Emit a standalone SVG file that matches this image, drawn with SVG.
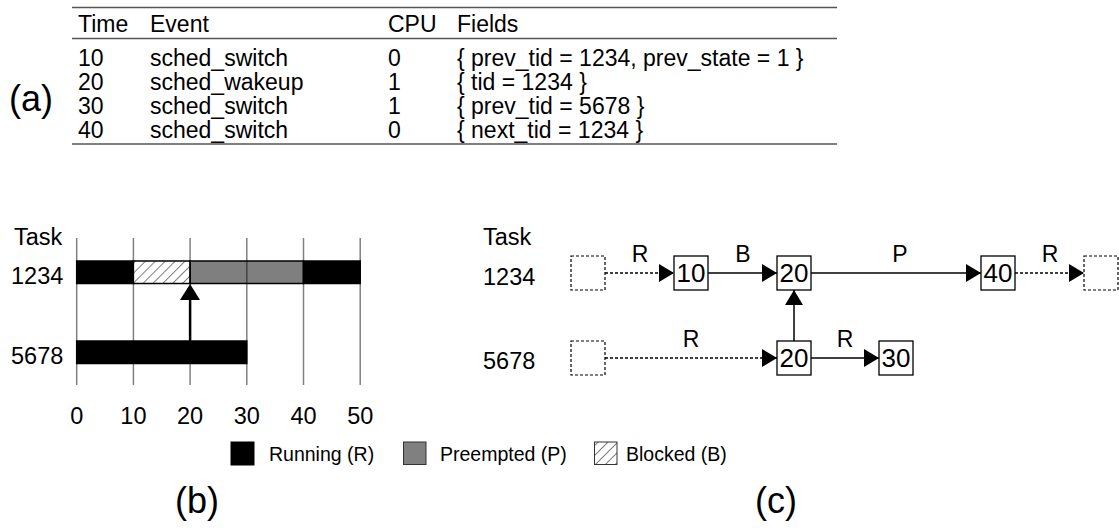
<svg xmlns="http://www.w3.org/2000/svg" width="1119" height="531" viewBox="0 0 1119 531">
  <style>
    text { font-family: "Liberation Sans", Arial, sans-serif; fill: #000; }
    .tbl { font-size: 23px; }
    .rule { stroke: #555; stroke-width: 1.5; }
    .lbl { font-size: 23.5px; }
    .big { font-size: 36px; }
    .grid { stroke: #808080; stroke-width: 1.5; }
    .bar { stroke: #000; stroke-width: 1.5; }
    .leg { font-size: 19.5px; }
    .box { fill: #fff; stroke: #000; stroke-width: 1.3; }
    .dbox { fill: #fff; stroke: #000; stroke-width: 1.2; stroke-dasharray: 3 2; }
    .edge { stroke: #000; stroke-width: 1.5; fill: none; }
    .dedge { stroke: #000; stroke-width: 1.3; fill: none; stroke-dasharray: 3 2; }
    .num { font-size: 26px; text-anchor: middle; }
    .el { font-size: 23px; text-anchor: middle; }
  </style>
  <defs>
    <pattern id="hatch" patternUnits="userSpaceOnUse" width="7" height="7" patternTransform="rotate(45)">
      <rect width="7" height="7" fill="#fff"/>
      <line x1="0" y1="0" x2="0" y2="7" stroke="#000" stroke-width="1"/>
    </pattern>
    <marker id="tri" viewBox="0 0 15 18" refX="15" refY="9" markerWidth="15" markerHeight="18" markerUnits="userSpaceOnUse" orient="auto">
      <path d="M0,0 L15,9 L0,18 Z" fill="#000"/>
    </marker>
  </defs>

  <!-- (a) trace event table -->
  <g id="table">
    <text class="big" x="9" y="111">(a)</text>
    <line class="rule" x1="72" y1="7.5" x2="837" y2="7.5"/>
    <line class="rule" x1="72" y1="38.5" x2="837" y2="38.5"/>
    <line class="rule" x1="72" y1="144" x2="837" y2="144"/>
    <g class="tbl">
      <text x="78" y="32">Time</text>
      <text x="150" y="32">Event</text>
      <text x="388" y="32">CPU</text>
      <text x="457" y="32">Fields</text>

      <text x="78" y="66">10</text>
      <text x="150" y="66">sched_switch</text>
      <text x="388" y="66">0</text>
      <text x="457" y="66">{ prev_tid = 1234, prev_state = 1 }</text>

      <text x="78" y="90">20</text>
      <text x="150" y="90">sched_wakeup</text>
      <text x="388" y="90">1</text>
      <text x="457" y="90">{ tid = 1234 }</text>

      <text x="78" y="114">30</text>
      <text x="150" y="114">sched_switch</text>
      <text x="388" y="114">1</text>
      <text x="457" y="114">{ prev_tid = 5678 }</text>

      <text x="78" y="138">40</text>
      <text x="150" y="138">sched_switch</text>
      <text x="388" y="138">0</text>
      <text x="457" y="138">{ next_tid = 1234 }</text>
    </g>
  </g>

  <!-- (b) timeline chart -->
  <g id="timeline">
    <text class="lbl" x="14" y="245">Task</text>
    <text class="lbl" x="11" y="284">1234</text>
    <text class="lbl" x="11" y="364">5678</text>
    <g id="grid">
      <line class="grid" x1="76.7" y1="238" x2="76.7" y2="385"/>
      <line class="grid" x1="133.4" y1="238" x2="133.4" y2="385"/>
      <line class="grid" x1="190.1" y1="238" x2="190.1" y2="385"/>
      <line class="grid" x1="246.8" y1="238" x2="246.8" y2="385"/>
      <line class="grid" x1="303.5" y1="238" x2="303.5" y2="385"/>
      <line class="grid" x1="360.2" y1="238" x2="360.2" y2="385"/>
    </g>
    <g id="bar-1234">
      <rect class="bar" x="76.7" y="261" width="56.7" height="22.5" fill="#000"/>
      <rect class="bar" x="133.4" y="261" width="56.7" height="22.5" fill="url(#hatch)"/>
      <rect class="bar" x="190.1" y="261" width="113.4" height="22.5" fill="#000" fill-opacity="0.5"/>
      <rect class="bar" x="303.5" y="261" width="56.7" height="22.5" fill="#000"/>
    </g>
    <g id="bar-5678">
      <rect class="bar" x="76.7" y="341" width="170.1" height="22.5" fill="#000"/>
    </g>
    <g id="wakeup-arrow">
      <line x1="190.1" y1="341" x2="190.1" y2="298" stroke="#000" stroke-width="2.5"/>
      <polygon points="180,300 200,300 190.1,284" fill="#000"/>
    </g>
    <g class="lbl" text-anchor="middle">
      <text x="76.7" y="424">0</text>
      <text x="133.4" y="424">10</text>
      <text x="190.1" y="424">20</text>
      <text x="246.8" y="424">30</text>
      <text x="303.5" y="424">40</text>
      <text x="360.2" y="424">50</text>
    </g>
    <text class="big" x="197" y="513" text-anchor="middle">(b)</text>
  </g>

  <!-- legend -->
  <g id="legend">
    <rect x="231" y="442" width="23" height="23" fill="#000" stroke="#000"/>
    <text class="leg" x="269" y="461">Running (R)</text>
    <rect x="403.5" y="442" width="22.5" height="22.5" fill="#808080" stroke="#333" stroke-width="1"/>
    <text class="leg" x="440" y="461">Preempted (P)</text>
    <rect x="594.5" y="442" width="22.5" height="22.5" fill="url(#hatch)" stroke="#333" stroke-width="1"/>
    <text class="leg" x="626" y="461">Blocked (B)</text>
  </g>

  <!-- (c) state graph -->
  <g id="graph-labels">
    <text class="lbl" x="483" y="245">Task</text>
    <text class="lbl" x="483" y="285">1234</text>
    <text class="lbl" x="483" y="369">5678</text>
    <text class="big" x="776" y="513" text-anchor="middle">(c)</text>
  </g>

  <g id="connectors">
    <line class="dedge" x1="605" y1="273" x2="674" y2="273" marker-end="url(#tri)"/>
    <line class="edge" x1="708" y1="273" x2="777" y2="273" marker-end="url(#tri)"/>
    <line class="edge" x1="811" y1="273" x2="981" y2="273" marker-end="url(#tri)"/>
    <line class="dedge" x1="1015" y1="273" x2="1084" y2="273" marker-end="url(#tri)"/>
    <line class="dedge" x1="605" y1="358" x2="777" y2="358" marker-end="url(#tri)"/>
    <line class="edge" x1="811" y1="358" x2="879" y2="358" marker-end="url(#tri)"/>
    <line class="edge" x1="794" y1="341" x2="794" y2="290" marker-end="url(#tri)"/>
    <text class="el" x="640" y="262">R</text>
    <text class="el" x="743" y="262">B</text>
    <text class="el" x="900" y="262">P</text>
    <text class="el" x="1050" y="262">R</text>
    <text class="el" x="691" y="347">R</text>
    <text class="el" x="845" y="347">R</text>
  </g>

  <g id="n1234-start"><rect class="dbox" x="571" y="256" width="34" height="34"/></g>
  <g id="n1234-10"><rect class="box" x="674" y="256" width="34" height="34"/><text class="num" x="691" y="282">10</text></g>
  <g id="n1234-20"><rect class="box" x="777" y="256" width="34" height="34"/><text class="num" x="794" y="282">20</text></g>
  <g id="n1234-40"><rect class="box" x="981" y="256" width="34" height="34"/><text class="num" x="998" y="282">40</text></g>
  <g id="n1234-end"><rect class="dbox" x="1084" y="256" width="34" height="34"/></g>
  <g id="n5678-start"><rect class="dbox" x="571" y="341" width="34" height="34"/></g>
  <g id="n5678-20"><rect class="box" x="777" y="341" width="34" height="34"/><text class="num" x="794" y="367">20</text></g>
  <g id="n5678-30"><rect class="box" x="879" y="341" width="34" height="34"/><text class="num" x="896" y="367">30</text></g>
</svg>
